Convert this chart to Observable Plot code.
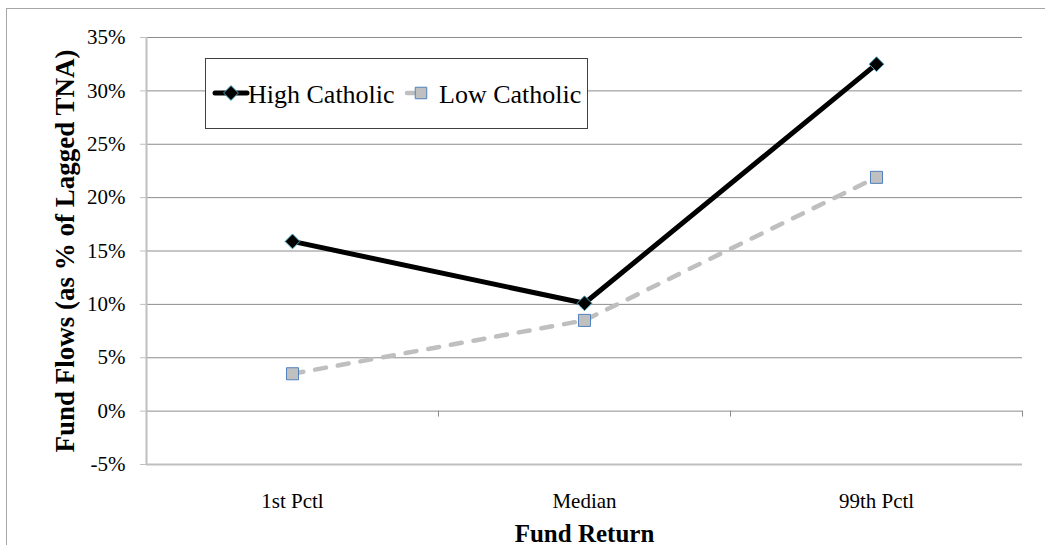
<!DOCTYPE html>
<html>
<head>
<meta charset="utf-8">
<script src="https://cdn.jsdelivr.net/npm/d3@7"></script>
<script src="https://cdn.jsdelivr.net/npm/@observablehq/plot@0.6"></script>
<style>
  html, body { margin: 0; padding: 0; background: #fff; overflow: hidden; }
  #wrap { position: relative; width: 1045px; height: 545px; overflow: hidden; font-family: 'Liberation Serif', serif; }
  #frame { position: absolute; left: 6px; top: 8px; width: 1100px; height: 600px; border: 1px solid #a6a6a6; box-sizing: border-box; }
  #chart { position: absolute; left: 0; top: 0; }
  #chart text { font-family: 'Liberation Serif', serif; }
  #legend { position: absolute; left: 205px; top: 58px; width: 383px; height: 71px; box-sizing: border-box; border: 1px solid #404040; background: #fff; }
  #legend svg { position: absolute; left: 0; top: 0; }
  #legend text { font-family: 'Liberation Serif', serif; }
</style>
</head>
<body>
<div id="wrap">
  <div id="frame"></div>
  <div id="chart"></div>
  <div id="legend"></div>
</div>
<script>
// Data
const categories = ["1st Pctl", "Median", "99th Pctl"];
const highCatholic = [15.9, 10.1, 32.5];
const lowCatholic = [3.5, 8.5, 21.9];
const yTicks = [-5, 0, 5, 10, 15, 20, 25, 30, 35];
const seriesNames = ["High Catholic", "Low Catholic"];

const high = categories.map((c, i) => ({cat: c, x: i + 0.5, y: highCatholic[i]}));
const low = categories.map((c, i) => ({cat: c, x: i + 0.5, y: lowCatholic[i]}));
const catCenters = categories.map((c, i) => i + 0.5);
const catBounds = categories.map((c, i) => i + 1);

const font = "'Liberation Serif', serif";

const chart = Plot.plot({
  width: 1045,
  height: 545,
  marginLeft: 146,
  marginRight: 23,
  marginTop: 37,
  marginBottom: 81,
  style: {fontFamily: font, fontSize: "21px", color: "#000", background: "transparent", overflow: "visible"},
  x: {domain: [0, 3], axis: null},
  y: {domain: [-5, 35], axis: null},
  marks: [
    Plot.ruleY(yTicks.filter(d => d > -5), {stroke: "#8c8c8c", strokeWidth: 1}),
    Plot.ruleY([-5], {stroke: "#bfbfbf", strokeWidth: 2}),
    Plot.ruleX([0], {stroke: "#bfbfbf", strokeWidth: 2}),
    Plot.ruleX(catBounds, {y1: 0, y2: -0.56, stroke: "#8c8c8c", strokeWidth: 1}),
    Plot.axisY({ticks: yTicks, tickSize: 6, tickPadding: 15, tickFormat: d => `${d}%`, stroke: "#bfbfbf", fontSize: 21, label: null}),
    Plot.axisX({ticks: catCenters, tickSize: 0, tickPadding: 29, tickFormat: (d) => categories[Math.round(d - 0.5)], fontSize: 21, label: null}),
    Plot.line(low, {x: "x", y: "y", stroke: "#bfbfbf", strokeWidth: 4.5, strokeDasharray: "11,12", strokeLinecap: "round"}),
    Plot.line(high, {x: "x", y: "y", stroke: "#000", strokeWidth: 5}),
    Plot.dot(low, {x: "x", y: "y", symbol: "square", r: 6.8, fill: "#c0c0c0", stroke: "#4f81bd", strokeWidth: 1}),
    Plot.dot(high, {x: "x", y: "y", symbol: "diamond2", r: 6.7, fill: "#000", stroke: "#4bacc6", strokeWidth: 1}),
    Plot.text(["Fund Return"], {frameAnchor: "bottom", dy: 77, text: d => d, fontWeight: "bold", fontSize: 25, lineAnchor: "bottom"}),
    Plot.text(["Fund Flows (as % of Lagged TNA)"], {frameAnchor: "left", textAnchor: "middle", dx: -73, dy: 0, rotate: -90, text: d => d, fontWeight: "bold", fontSize: 27, lineAnchor: "bottom"})
  ]
});
document.getElementById("chart").appendChild(chart);

// Legend
const lg = d3.select("#legend").append("svg").attr("width", 383).attr("height", 71);
const cy = 34;
lg.append("line").attr("x1", 9).attr("x2", 41).attr("y1", cy).attr("y2", cy)
  .attr("stroke", "#000").attr("stroke-width", 5).attr("stroke-linecap", "round");
lg.append("path").attr("d", d3.symbol(d3.symbolDiamond2, Math.PI * 6.7 * 6.7)())
  .attr("transform", `translate(25,${cy})`).attr("fill", "#000").attr("stroke", "#4bacc6");
lg.append("text").attr("x", 42).attr("y", 44).attr("font-size", 26)
  .attr("font-family", "Liberation Serif").text(seriesNames[0]);
lg.append("line").attr("x1", 201).attr("x2", 212).attr("y1", cy).attr("y2", cy)
  .attr("stroke", "#bfbfbf").attr("stroke-width", 4.5).attr("stroke-linecap", "round");
lg.append("path").attr("d", d3.symbol(d3.symbolSquare, Math.PI * 6.5 * 6.5)())
  .attr("transform", `translate(215,${cy})`).attr("fill", "#c0c0c0").attr("stroke", "#4f81bd");
lg.append("text").attr("x", 233).attr("y", 44).attr("font-size", 26)
  .attr("font-family", "Liberation Serif").text(seriesNames[1]);
</script>
</body>
</html>
